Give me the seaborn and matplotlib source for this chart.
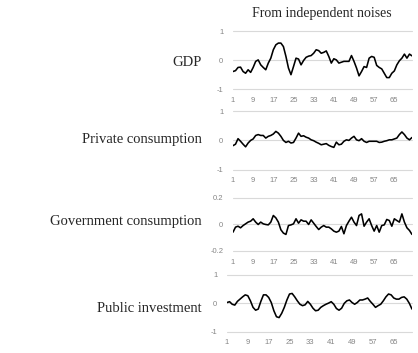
import numpy as np
import pandas as pd
import seaborn as sns
import matplotlib
matplotlib.use("Agg")
import matplotlib.pyplot as plt

# Impulse responses (72 periods)
periods = list(range(1, 73))

gdp = [-0.38, -0.35, -0.24, -0.23, -0.38, -0.44, -0.32, -0.41, -0.24, -0.03,
       0.02, -0.15, -0.24, -0.32, -0.09, 0.08, 0.37, 0.54, 0.60, 0.60,
       0.48, 0.14, -0.26, -0.49, -0.21, 0.08, 0.05, -0.15, 0.00, 0.11,
       0.15, 0.17, 0.25, 0.37, 0.34, 0.25, 0.28, 0.33, 0.14, -0.09,
       0.06, 0.02, -0.09, -0.06, -0.03, -0.03, -0.03, 0.17, -0.03, -0.26,
       -0.53, -0.38, -0.21, -0.24, 0.08, 0.14, 0.11, -0.17, -0.24, -0.29,
       -0.44, -0.59, -0.59, -0.44, -0.36, -0.15, -0.01, 0.08, 0.22, 0.08,
       0.22, 0.16]

private_cons = [-0.18, -0.13, 0.06, -0.03, -0.13, -0.22, -0.09, 0.00, 0.05, 0.17,
                0.20, 0.17, 0.17, 0.08, 0.14, 0.17, 0.22, 0.31, 0.25, 0.14,
                0.00, -0.07, -0.03, -0.09, -0.07, 0.08, 0.25, 0.14, 0.16, 0.11,
                0.08, 0.02, -0.01, -0.06, -0.10, -0.15, -0.13, -0.11, -0.17, -0.21,
                -0.24, -0.06, -0.15, -0.13, -0.03, 0.02, 0.00, 0.08, 0.14, 0.02,
                -0.01, 0.06, -0.03, -0.07, -0.03, -0.03, -0.03, -0.03, -0.07, -0.06,
                -0.03, -0.01, 0.02, 0.02, 0.05, 0.08, 0.20, 0.29, 0.20, 0.08,
                0.02, 0.10]

gov_cons = [-0.058, -0.020, -0.013, -0.025, -0.008, 0.005, 0.018, 0.025, 0.043, 0.018,
            0.000, 0.018, 0.005, 0.000, -0.003, 0.018, 0.068, 0.050, 0.018, -0.040,
            -0.065, -0.075, -0.008, -0.003, 0.005, 0.043, 0.010, 0.035, 0.025, 0.025,
            0.000, 0.035, 0.010, -0.015, -0.038, -0.020, -0.008, -0.020, -0.020, -0.033,
            -0.050, -0.058, -0.050, -0.015, -0.070, -0.008, 0.025, 0.055, 0.018, -0.008,
            0.068, 0.080, -0.013, 0.018, 0.043, -0.008, -0.050, -0.008, -0.058, -0.008,
            -0.003, 0.038, 0.030, -0.013, 0.043, 0.030, 0.018, 0.080, 0.018, -0.025,
            -0.045, -0.075]

public_inv = [0.02, 0.05, -0.04, -0.07, 0.06, 0.14, 0.22, 0.29, 0.26, 0.08,
              -0.15, -0.25, -0.21, 0.06, 0.29, 0.29, 0.20, 0.02, -0.27, -0.48,
              -0.51, -0.36, -0.15, 0.11, 0.32, 0.34, 0.22, 0.08, -0.04, -0.09,
              -0.06, 0.06, -0.04, -0.18, -0.27, -0.25, -0.15, -0.09, -0.04, 0.00,
              0.05, -0.04, -0.19, -0.25, -0.18, -0.01, 0.08, 0.11, 0.02, -0.04,
              0.02, 0.11, 0.11, 0.14, 0.18, 0.06, -0.04, -0.15, -0.09, -0.04,
              0.08, 0.22, 0.32, 0.29, 0.18, 0.14, 0.14, 0.20, 0.22, 0.14,
              -0.01, -0.21]

labels = ["GDP", "Private consumption", "Government consumption", "Public investment"]
series = [gdp, private_cons, gov_cons, public_inv]
yticks = [[-1, 0, 1], [-1, 0, 1], [-0.2, 0, 0.2], [-1, 0, 1]]
yticklabels = [["-1", "0", "1"], ["-1", "0", "1"], ["-0.2", "0", "0.2"], ["-1", "0", "1"]]
xticks = list(range(1, 72, 8))

sns.set_style("white")

fig = plt.figure(figsize=(4.18, 3.53), dpi=100)
# [left, bottom, width, height] in figure fractions
boxes = [[0.5574, 0.7465, 0.4282, 0.1643],
         [0.5574, 0.5198, 0.4282, 0.1649],
         [0.5574, 0.2890, 0.4282, 0.1501],
         [0.5430, 0.0609, 0.4426, 0.1609]]
label_y = [63, 140, 222, 308]  # pixel rows of the side labels

for i, (name, vals) in enumerate(zip(labels, series)):
    ax = fig.add_axes(boxes[i])
    df = pd.DataFrame({"period": periods, "value": vals})
    sns.lineplot(data=df, x="period", y="value", ax=ax, color="black", linewidth=1.15)
    lo, hi = yticks[i][0], yticks[i][-1]
    ax.set_ylim(lo, hi)
    ax.set_xlim(1, 72)
    ax.set_yticks(yticks[i])
    ax.set_yticklabels(yticklabels[i])
    ax.set_xticks(xticks)
    ax.set_xticklabels([str(t) for t in xticks])
    for t in yticks[i]:
        ax.axhline(t, color="#d9d9d9", linewidth=0.8, zorder=0, clip_on=False)
    ax.tick_params(axis="both", length=0, labelsize=5.5, labelcolor="#858585")
    ax.tick_params(axis="y", pad=7)
    ax.tick_params(axis="x", pad=5.5)
    for lab in ax.get_xticklabels() + ax.get_yticklabels():
        lab.set_fontfamily("Liberation Sans")
    ax.set_xlabel("")
    ax.set_ylabel("")
    sns.despine(ax=ax, left=True, bottom=True)
    fig.text(202 / 418, 1 - label_y[i] / 353, name, ha="right", va="center",
             fontsize=10.5, family="Liberation Serif")

fig.text(322 / 418, 1 - 14 / 353, "From independent noises", ha="center", va="center",
         fontsize=10, family="Liberation Serif")

fig.savefig("out.png", dpi=100)
